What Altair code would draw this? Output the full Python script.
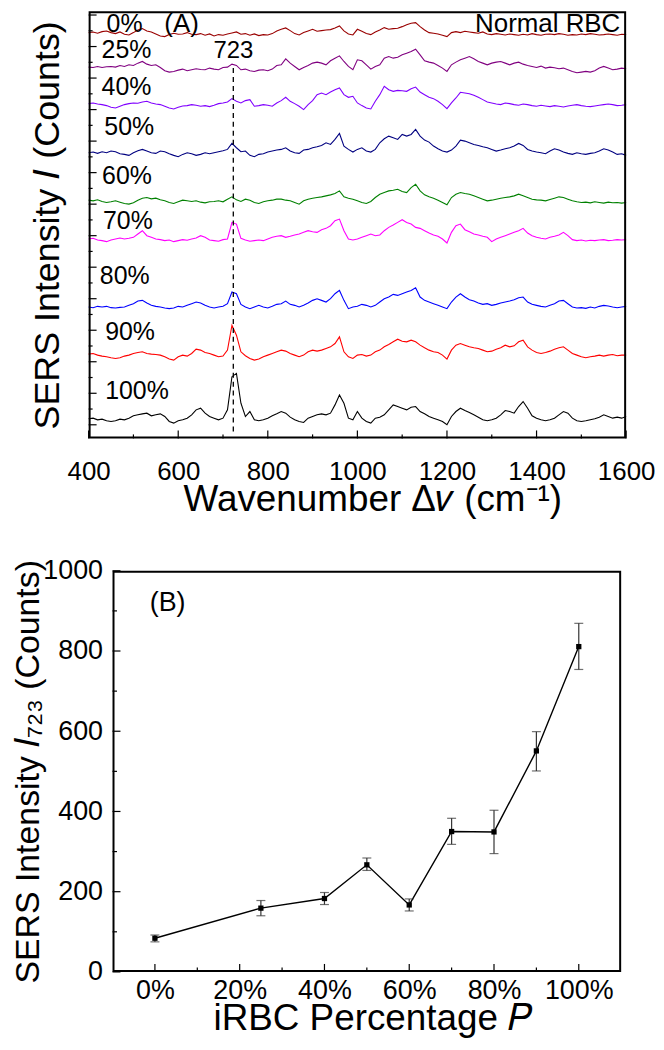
import altair as alt
import pandas as pd

FONT = "Liberation Sans"

# ---------------- Panel A data ----------------
wavenumber = list(range(400, 1601, 10))

sample_names = ["0%", "25%", "40%", "50%", "60%", "70%", "80%", "90%", "100%"]
sample_colors = ["#990000", "#800080", "#8000FF", "#000080", "#008000",
                 "#FF00FF", "#0000FF", "#FF0000", "#000000"]
# vertical stacking offset of each spectrum (counts)
sample_offsets = [1182, 1075, 965, 820, 675, 560, 355, 210, 15]

spec_0 = [0, 2, -2, 3, 5, 0, -3, 2, -5, -7, 0, 8, 12, 5, 2, -4, -10, -12, -6, -2,
          -5, -4, 0, -5, -6, -3, -8, -4, -10, -6, -8, -4, -1, 2, -5, -3, -8, -4, -9, -6,
          -7, -3, 5, 10, 14, 6, -3, -7, 0, 5, 10, 4, 6, 8, 9, 14, 20, 5, -4, -7,
          10, 4, -3, -6, 2, 8, 15, 10, 12, 13, 18, 24, 28, 30, 18, 8, 0, -2, -4, -8,
          -12, 0, 3, 0, 4, 2, 0, -2, 2, -4, -6, -3, -5, -7, -4, -6, -8, -5, -7, -3,
          -6, -8, -5, -4, -6, -3, -5, -8, -6, -7, -4, -6, -3, -5, -7, -6, -4, -6, -8, -5, -6]
spec_25 = [3, 2, 5, 2, 4, 5, 3, 8, 5, 10, 8, 15, 20, 12, 8, 10, 2, -8, -12, -10,
           -6, -3, -8, -5, -2, -4, -5, 0, -3, -5, 2, 3, 12, 8, -5, -3, -8, -10, -6, -5,
           -8, -3, 8, 10, 28, 15, 5, -5, 2, 8, 15, 18, 15, 10, 22, 30, 37, 20, 5, -5,
           25, 22, 10, -3, 5, 10, 30, 35, 30, 33, 40, 45, 50, 57, 40, 22, 18, 15, 8, 0,
           -10, 10, 18, 25, 30, 35, 28, 20, 15, 10, 15, 18, 20, 15, 10, 15, 18, 12, 8, 5,
           2, 6, 0, 3, 1, -2, 0, -5, -10, -14, -12, -10, -12, -8, 0, 5, 0, -5, -3, 0, -2]
spec_40 = [3, 5, 2, 0, -3, -8, -10, -5, 0, 3, 5, 4, 8, 10, 5, 2, 0, -5, -10, -13,
           -8, -4, -3, 0, -2, -5, -3, -6, -2, 3, 5, 8, 18, 10, 5, 12, 15, -5, -3, 0,
           -2, -5, 5, 12, 22, 10, 3, -5, -15, 0, 12, 30, 35, 30, 38, 45, 50, 30, 22, 25,
           5, -3, -10, -13, 10, 30, 55, 45, 40, 43, 42, 40, 48, 53, 38, 30, 22, 18, 10, 0,
           -12, 5, 20, 37, 35, 33, 28, 22, 15, 8, 5, 2, 0, 5, 3, 0, -2, 2, 0, -3,
           -5, -2, -4, -6, -3, -5, -7, -4, -2, 0, -3, -5, -6, -4, -2, 0, 2, 0, -3, -2, 0]
spec_50 = [0, 2, -2, 3, 0, 5, 3, -3, -5, -8, 0, 6, 10, 5, 0, -2, 5, 3, -3, -8,
           -12, -5, 0, -3, -8, -5, 0, -3, 0, 3, 6, 10, 28, 15, 3, 5, -8, -12, -5, -3,
           2, 5, 8, 10, 15, 5, 0, -2, 8, 10, 15, 18, 22, 30, 25, 40, 58, 20, 10, 2,
           10, 15, 5, 2, 10, 30, 42, 50, 45, 40, 55, 50, 55, 70, 50, 38, 32, 20, 12, 5,
           2, 8, 20, 38, 35, 30, 25, 22, 18, 15, 10, 5, 8, 12, 15, 20, 28, 22, 10, 5,
           2, 0, -3, 5, 12, 8, 2, -2, -5, 0, -3, -5, -2, 0, 5, 12, 8, 2, -5, -3, -8]
spec_60 = [2, 0, 3, -2, -5, -3, 0, -4, -8, -10, -6, 2, 8, 10, 6, 8, 3, 0, -5, -8,
           -3, 2, 0, -2, 0, -4, -6, -3, -2, 0, -3, 5, 12, 3, -2, 5, 2, -5, -8, -3,
           0, 2, 5, 5, 2, 0, -5, -10, 0, 5, 8, 10, 12, 15, 18, 22, 30, 12, 8, 5,
           0, -5, -8, -2, 10, 20, 25, 30, 32, 35, 28, 25, 40, 50, 30, 18, 12, 8, 2, -5,
           -12, 10, 20, 25, 22, 20, 15, 10, 5, 0, 2, 5, 8, 10, 12, 15, 20, 15, 10, 5,
           3, 2, 0, 4, 8, 12, 10, 5, 0, -3, -5, -4, -6, -3, -5, -7, -4, -6, -5, -7, -5]
spec_70 = [0, 2, -3, -5, -8, -3, 0, 3, 0, 2, 5, 15, 25, 10, 5, 0, -2, -5, -3, -8,
           -5, -2, -4, 0, 3, 10, 5, -3, -5, -7, -2, 0, 50, 45, 2, -3, -7, -5, -3, -5,
           0, 5, 8, 10, 5, 8, 12, 15, 20, 25, 22, 20, 28, 32, 40, 55, 60, 25, 0, -3,
           0, 5, 10, 15, 10, 12, 25, 35, 42, 50, 58, 50, 45, 35, 32, 25, 18, 12, 8, 0,
           -12, 20, 40, 45, 28, 22, 15, 12, 8, 5, -8, 0, 5, 10, 15, 20, 25, 32, 18, 10,
           5, 2, 0, 5, 8, 12, 20, 10, -2, -5, -3, -6, -4, -5, -3, -2, -5, -4, -2, -3, -2]
spec_80 = [0, -2, 2, 0, 2, -2, -3, -1, 0, 5, 10, 18, 20, 12, 5, 2, 0, -3, -5, -3,
           2, 0, 5, 10, 15, 12, 5, 0, -3, 0, 2, 10, 45, 40, 8, 0, -5, 0, 5, 0,
           -3, 2, 8, 10, 18, 8, 5, 0, 5, 12, 20, 25, 20, 15, 25, 40, 50, 20, -5, 0,
           2, 8, 5, 0, 5, 15, 25, 30, 38, 35, 40, 45, 50, 58, 30, 20, 15, 10, 5, 0,
           -5, 15, 30, 40, 30, 22, 18, 12, 8, 10, 5, 8, 12, 15, 18, 22, 28, 30, 15, 8,
           5, 2, 0, 5, 10, 18, 20, 10, 0, -3, -2, -4, 0, -3, 2, 5, 3, 0, -2, 0, 2]
spec_90 = [3, 5, 0, -3, -5, -8, -10, -8, -3, 0, 5, 8, 10, 5, 3, 2, 0, -5, -12, -15,
           -5, 0, -3, 5, 18, 15, 8, 5, 0, -5, -3, 15, 90, 60, 10, -2, -10, -15, -12, -5,
           0, 5, 10, 15, 12, 5, 0, -5, 0, 10, 15, 12, 15, 20, 25, 35, 55, 10, -5, -10,
           0, 2, -3, 0, 10, 15, 25, 32, 40, 48, 42, 40, 45, 40, 30, 22, 15, 10, 8, 0,
           -12, 15, 30, 35, 30, 25, 22, 20, 15, 10, 12, 18, 22, 30, 25, 28, 40, 45, 25, 15,
           8, 5, 8, 12, 18, 22, 25, 15, 5, 0, -5, -8, -5, -3, 0, -3, 0, 2, -2, 0, 0]
spec_100 = [3, 5, 0, 2, -3, -5, -3, 2, 0, 5, 12, 15, 18, 20, 12, 15, 18, 10, -5, -10,
            -3, 0, 5, 15, 30, 35, 20, 10, 5, 0, 5, 30, 130, 140, 50, 10, 25, 0, -3, 0,
            5, 12, 18, 25, 20, 8, 0, -5, -8, 5, 10, 15, 18, 15, 20, 45, 75, 50, 5, 0,
            25, 5, -5, -10, 5, 8, 15, 30, 45, 40, 35, 30, 38, 40, 25, 18, 10, 5, 0, -5,
            -15, 10, 25, 35, 28, 22, 15, 8, 0, -3, 0, 5, 15, 28, 25, 20, 40, 55, 35, 12,
            5, 0, -3, 0, 5, 15, 25, 20, 5, -3, -5, -3, 0, 3, 8, 15, 10, 5, 8, 5, 10]

spectra = [spec_0, spec_25, spec_40, spec_50, spec_60, spec_70, spec_80, spec_90, spec_100]

# spectrum labels (wavenumber of left edge, counts of baseline)
label_wn = [440, 429, 429, 435, 430, 432, 425, 437, 437]
label_counts = [1183, 1105, 994, 874, 725, 590, 425, 256, 79]

peak_wn = 723
peak_line_top = 1075
peak_line_bottom = -20

WN_MIN, WN_MAX = 400, 1600
CNT_MIN, CNT_MAX = -41, 1246

x_major_a = [400, 600, 800, 1000, 1200, 1400, 1600]
x_minor_a = [500, 700, 900, 1100, 1300, 1500]
y_tick_step_a = 47.5
y_major_a = [y_tick_step_a * k for k in range(0, 27, 2)]
y_minor_a = [y_tick_step_a * k for k in range(1, 27, 2)]

# ---------------- Panel B data ----------------
percent = [0, 25, 40, 50, 60, 70, 80, 90, 100]
i723 = [84, 159, 183, 267, 167, 350, 349, 551, 811]
i723_lo = [75, 140, 168, 253, 152, 318, 295, 501, 754]
i723_hi = [92, 178, 198, 284, 182, 383, 403, 599, 869]

x_major_b = [0, 20, 40, 60, 80, 100]
x_minor_b = [10, 30, 50, 70, 90]
y_major_b = [0, 200, 400, 600, 800, 1000]
y_minor_b = [100, 300, 500, 700, 900]

# ---------------- build tables ----------------
rows = []
for name, off, vals in zip(sample_names, sample_offsets, spectra):
    for w, v in zip(wavenumber, vals):
        rows.append({"wn": w, "intensity": v + off, "sample": name})
spec_df = pd.DataFrame(rows)

WA, HA = 540, 429
WB, HB = 535, 403
B_FRAME_LEFT = 24   # frame of panel B starts right of the shared plot origin
INSET = 1.0         # keep the frame stroke fully inside the plot area

one = pd.DataFrame({"s": [0]})


def frame(left, right, height, width=2.0):
    return alt.Chart(one).mark_rect(fill="transparent", stroke="black",
                                    strokeWidth=width).encode(
        x=alt.value(left + INSET), x2=alt.value(right - INSET),
        y=alt.value(INSET), y2=alt.value(height - INSET))


xa_scale = alt.Scale(domain=[WN_MIN, WN_MAX], nice=False, zero=False)
ya_scale = alt.Scale(domain=[CNT_MIN, CNT_MAX], nice=False, zero=False)

xa = alt.X("wn:Q", scale=xa_scale,
           axis=alt.Axis(values=x_major_a, format="d", title="Wavenumber Δ𝜈 (cm⁻¹)",
                         ticks=False, tickSize=0, domain=False, grid=False,
                         labelFontSize=26, labelPadding=20, titleFontSize=37,
                         titlePadding=-3, titleX=285, labelFlush=False))
ya = alt.Y("intensity:Q", scale=ya_scale,
           axis=alt.Axis(labels=False, ticks=False, tickSize=0, domain=False, grid=False,
                         title="SERS Intensity 𝐼 (Counts)", titleFontSize=36,
                         titlePadding=22))

lines = alt.Chart(spec_df).mark_line(strokeWidth=1.1, clip=False).encode(
    x=xa, y=ya,
    color=alt.Color("sample:N", scale=alt.Scale(domain=sample_names, range=sample_colors),
                    legend=None),
)

dash_df = pd.DataFrame({"wn": [peak_wn], "intensity": [peak_line_bottom],
                        "intensity2": [peak_line_top]})
dash = alt.Chart(dash_df).mark_rule(color="black", strokeWidth=1.3,
                                    strokeDash=[5, 4]).encode(
    x=alt.X("wn:Q", scale=xa_scale), y=alt.Y("intensity:Q", scale=ya_scale),
    y2="intensity2:Q")

lab_df = pd.DataFrame({"wn": label_wn, "intensity": label_counts, "label": sample_names})
labels = alt.Chart(lab_df).mark_text(align="left", baseline="alphabetic", fontSize=25,
                                     font=FONT, color="black").encode(
    x=alt.X("wn:Q", scale=xa_scale), y=alt.Y("intensity:Q", scale=ya_scale), text="label:N")

a_df = pd.DataFrame({"wn": [569], "intensity": [1183], "label": ["(A)"]})
a_text = alt.Chart(a_df).mark_text(align="left", baseline="alphabetic", fontSize=26,
                                   font=FONT, color="black").encode(
    x=alt.X("wn:Q", scale=xa_scale), y=alt.Y("intensity:Q", scale=ya_scale), text="label:N")

p_df = pd.DataFrame({"wn": [peak_wn], "intensity": [1105], "label": [str(peak_wn)]})
p_text = alt.Chart(p_df).mark_text(align="center", baseline="alphabetic", fontSize=24,
                                   font=FONT, color="black").encode(
    x=alt.X("wn:Q", scale=xa_scale), y=alt.Y("intensity:Q", scale=ya_scale), text="label:N")

n_df = pd.DataFrame({"wn": [1587], "intensity": [1183], "label": ["Normal RBC"]})
n_text = alt.Chart(n_df).mark_text(align="right", baseline="alphabetic", fontSize=26,
                                   font=FONT, color="black").encode(
    x=alt.X("wn:Q", scale=xa_scale), y=alt.Y("intensity:Q", scale=ya_scale), text="label:N")

xt_major_a = alt.Chart(pd.DataFrame({"wn": x_major_a})).mark_rule(
    color="black", strokeWidth=1.2).encode(
    x=alt.X("wn:Q", scale=xa_scale), y=alt.value(HA), y2=alt.value(HA - 8))
xt_minor_a = alt.Chart(pd.DataFrame({"wn": x_minor_a})).mark_rule(
    color="black", strokeWidth=1.2).encode(
    x=alt.X("wn:Q", scale=xa_scale), y=alt.value(HA), y2=alt.value(HA - 4))
yt_major_a = alt.Chart(pd.DataFrame({"intensity": y_major_a})).mark_rule(
    color="black", strokeWidth=1.2).encode(
    y=alt.Y("intensity:Q", scale=ya_scale), x=alt.value(0), x2=alt.value(8))
yt_minor_a = alt.Chart(pd.DataFrame({"intensity": y_minor_a})).mark_rule(
    color="black", strokeWidth=1.2).encode(
    y=alt.Y("intensity:Q", scale=ya_scale), x=alt.value(0), x2=alt.value(4))

panel_a = alt.layer(lines, dash, labels, a_text, p_text, n_text,
                    xt_major_a, xt_minor_a, yt_major_a, yt_minor_a,
                    frame(0, WA, HA)).properties(
    width=WA, height=HA, view=alt.ViewBackground(stroke="transparent"))

# ---------------- Panel B ----------------
b_df = pd.DataFrame({"P": percent, "I": i723, "lo": i723_lo, "hi": i723_hi})
xb_scale = alt.Scale(domain=[-15.64, 110], nice=False, zero=False)
yb_scale = alt.Scale(domain=[0, 1000], nice=False, zero=False)

xb = alt.X("P:Q", scale=xb_scale,
           axis=alt.Axis(values=x_major_b, labelExpr="datum.value + '%'",
                         title="iRBC Percentage 𝑃", ticks=False, tickSize=0, domain=False,
                         grid=False, labelFontSize=27, labelPadding=6, titleFontSize=37,
                         titlePadding=-3, titleX=285, labelFlush=False))
yb = alt.Y("I:Q", scale=yb_scale,
           axis=alt.Axis(values=y_major_b, format="d", title="SERS Intensity 𝐼₇₂₃ (Counts)",
                         ticks=False, tickSize=0, domain=False, grid=False,
                         labelFontSize=27, labelPadding=-14, titleFontSize=34,
                         titlePadding=-3, labelFlush=False))

b_line = alt.Chart(b_df).mark_line(color="black", strokeWidth=1.4).encode(x=xb, y=yb)
b_pts = alt.Chart(b_df).mark_square(color="black", size=28, opacity=1).encode(
    x=alt.X("P:Q", scale=xb_scale), y=alt.Y("I:Q", scale=yb_scale))
b_err = alt.Chart(b_df).mark_rule(color="#333333", strokeWidth=1.2).encode(
    x=alt.X("P:Q", scale=xb_scale), y=alt.Y("lo:Q", scale=yb_scale), y2="hi:Q")
b_cap_lo = alt.Chart(b_df).mark_tick(color="#333333", orient="horizontal", size=9,
                                     thickness=1.2).encode(
    x=alt.X("P:Q", scale=xb_scale), y=alt.Y("lo:Q", scale=yb_scale))
b_cap_hi = alt.Chart(b_df).mark_tick(color="#333333", orient="horizontal", size=9,
                                     thickness=1.2).encode(
    x=alt.X("P:Q", scale=xb_scale), y=alt.Y("hi:Q", scale=yb_scale))
b_ptext = alt.Chart(pd.DataFrame({"P": [3], "I": [900], "t": ["(B)"]})).mark_text(
    align="center", baseline="alphabetic", fontSize=27, font=FONT, color="black").encode(
    x=alt.X("P:Q", scale=xb_scale), y=alt.Y("I:Q", scale=yb_scale), text="t:N")

xt_major_b = alt.Chart(pd.DataFrame({"P": x_major_b})).mark_rule(
    color="black", strokeWidth=1.2).encode(
    x=alt.X("P:Q", scale=xb_scale), y=alt.value(HB), y2=alt.value(HB - 8))
xt_minor_b = alt.Chart(pd.DataFrame({"P": x_minor_b})).mark_rule(
    color="black", strokeWidth=1.2).encode(
    x=alt.X("P:Q", scale=xb_scale), y=alt.value(HB), y2=alt.value(HB - 4.5))
yt_major_b = alt.Chart(pd.DataFrame({"I": y_major_b})).mark_rule(
    color="black", strokeWidth=1.2).encode(
    y=alt.Y("I:Q", scale=yb_scale), x=alt.value(B_FRAME_LEFT), x2=alt.value(B_FRAME_LEFT + 8))
yt_minor_b = alt.Chart(pd.DataFrame({"I": y_minor_b})).mark_rule(
    color="black", strokeWidth=1.2).encode(
    y=alt.Y("I:Q", scale=yb_scale), x=alt.value(B_FRAME_LEFT),
    x2=alt.value(B_FRAME_LEFT + 4.5))

panel_b = alt.layer(b_line, b_err, b_cap_lo, b_cap_hi, b_pts, b_ptext,
                    xt_major_b, xt_minor_b, yt_major_b, yt_minor_b,
                    frame(B_FRAME_LEFT, WB, HB)).properties(
    width=WB, height=HB, view=alt.ViewBackground(stroke="transparent"))

chart = alt.vconcat(panel_a, panel_b, spacing=38).properties(
    padding={"left": 3, "top": 0, "right": 0, "bottom": 0}
).configure_axis(
    labelFont=FONT, titleFont=FONT, labelColor="black", titleColor="black",
    titleFontWeight="normal"
).configure_text(font=FONT)

chart.save("out.html", embed_options={"renderer": "svg", "actions": False})
